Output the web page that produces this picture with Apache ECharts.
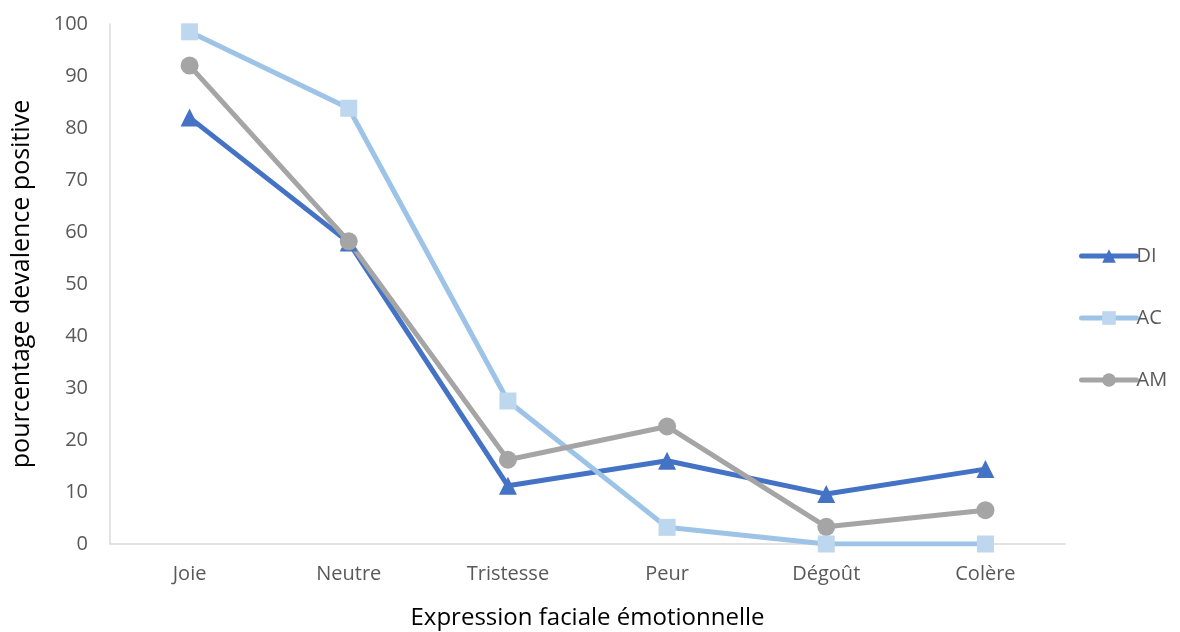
<!DOCTYPE html>
<html>
<head>
<meta charset="utf-8">
<script src="https://cdn.jsdelivr.net/npm/echarts@6/dist/echarts.min.js"></script>
<style>
  html, body { margin: 0; padding: 0; background: #fff; }
  #chart { width: 1180px; height: 632px; }
</style>
</head>
<body>
<div id="chart"></div>
<script>
// categories (x axis)
const categories = ['Joie', 'Neutre', 'Tristesse', 'Peur', 'Dégoût', 'Colère'];

// series values
const diValues = [82, 58, 11.2, 16, 9.6, 14.4];
const acValues = [98.5, 83.8, 27.5, 3.2, 0, 0];
const amValues = [92, 58.2, 16.2, 22.6, 3.3, 6.5];

const chart = echarts.init(document.getElementById('chart'));

const labelFont = '"Open Sans", "Noto Sans", sans-serif';

function lineSeries(name, data, lineColor, markerColor, symbol, size) {
    return {
        name: name,
        type: 'line',
        data: data,
        symbol: symbol,
        symbolSize: size,
        showAllSymbol: true,
        lineStyle: { color: lineColor, width: 5, cap: 'round', join: 'round' },
        itemStyle: { color: markerColor, borderWidth: 0 },
        emphasis: { disabled: true },
        z: 2
    };
}

const options = {
    animation: false,
    grid: { left: 110, right: 115, top: 24, bottom: 88, outerBoundsMode: 'none' },
    legend: {
        orient: 'vertical',
        left: 1074,
        top: 241,
        itemWidth: 55,
        itemHeight: 17,
        itemGap: 42,
        lineStyle: { width: 5, cap: 'round' },
        textStyle: { color: '#595959', fontSize: 20, fontFamily: labelFont, padding: [0, 0, 0, -5] },
        data: ['DI', 'AC', 'AM']
    },
    xAxis: {
        type: 'category',
        data: categories,
        boundaryGap: true,
        name: 'Expression faciale émotionnelle',
        nameLocation: 'middle',
        nameGap: 62,
        nameTextStyle: { color: '#000', fontSize: 24, fontFamily: labelFont },
        axisLine: { lineStyle: { color: '#d9d9d9', width: 1.5 } },
        axisTick: { show: false },
        axisLabel: { color: '#595959', fontSize: 20, fontFamily: labelFont, margin: 20 }
    },
    yAxis: {
        type: 'value',
        min: 0,
        max: 100,
        interval: 10,
        name: 'pourcentage devalence positive',
        nameLocation: 'middle',
        nameGap: 76,
        nameRotate: 90,
        nameTextStyle: { color: '#000', fontSize: 25, fontFamily: labelFont },
        axisLine: { show: true, lineStyle: { color: '#d9d9d9', width: 1.5 } },
        axisTick: { show: false },
        splitLine: { show: false },
        axisLabel: { color: '#595959', fontSize: 20, fontFamily: labelFont, margin: 22 }
    },
    series: [
        lineSeries('DI', diValues, '#4472C4', '#4472C4', 'triangle', 18),
        lineSeries('AC', acValues, '#9DC3E6', '#BDD7EE', 'rect', 17),
        lineSeries('AM', amValues, '#A5A5A5', '#A5A5A5', 'circle', 18)
    ]
};

chart.setOption(options);
</script>
</body>
</html>
